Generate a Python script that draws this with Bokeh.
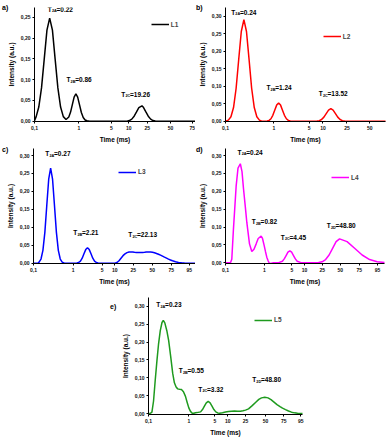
import numpy as np
from bokeh.plotting import figure
from bokeh.models import (Range1d, FixedTicker, CustomJSTickFormatter, Label,
                          Legend, LegendItem, Spacer, Div)
from bokeh.layouts import column, row
from bokeh.embed import file_html
from bokeh.resources import INLINE

FONT = "Liberation Sans"

# ---------------- data ----------------
x_tick_values = [0.1, 1, 5, 10, 25, 50, 75, 95]
x_tick_labels = ["0,1", "1", "5", "10", "25", "50", "75", "95"]

L1_t = [0.1, 0.109, 0.125, 0.144, 0.166, 0.191, 0.22, 0.254, 0.292, 0.337,
        0.388, 0.447, 0.515, 0.595, 0.652, 0.715, 0.784, 0.86, 0.943, 1.034,
        1.134, 1.243, 1.363, 1.494, 1.7, 9.33, 10.3, 11.6, 13.05, 14.7,
        16.5, 19.26, 20.85, 23.4, 25.8, 27.7, 29.7, 31.8, 34, 120]
L1_y = [0.001, 0.011, 0.034, 0.080, 0.150, 0.219, 0.248, 0.219, 0.150, 0.080,
        0.034, 0.011, 0.004, 0.010, 0.022, 0.040, 0.058, 0.066, 0.058, 0.040,
        0.021, 0.009, 0.003, 0.001, 0, 0, 0.0016, 0.005, 0.012, 0.0224,
        0.0327, 0.037, 0.0327, 0.0224, 0.012, 0.005, 0.0016, 0.0004, 0, 0]

L2_t = [0.1, 0.1146, 0.1296, 0.1466, 0.1658, 0.1875, 0.212, 0.24, 0.2714, 0.307,
        0.347, 0.393, 0.444, 0.502, 0.56, 0.7285, 0.796, 0.870, 0.950, 1.038,
        1.135, 1.24, 1.355, 1.48, 1.618, 1.768, 1.932, 2.11, 2.4, 7.0,
        7.4, 8.31, 9.33, 10.36, 11.32, 12.37, 13.52, 14.75, 16.12, 17.6,
        19.23, 21.0, 22.9, 25, 120]
L2_y = [0, 0.003, 0.0127, 0.039, 0.094, 0.176, 0.256, 0.29, 0.256, 0.176,
        0.094, 0.039, 0.0127, 0.003, 0, 0.0006, 0.0023, 0.007, 0.0169, 0.0315,
        0.0459, 0.052, 0.0459, 0.0315, 0.0169, 0.007, 0.0023, 0.0006, 0, 0,
        0.0004, 0.0016, 0.0048, 0.0116, 0.0216, 0.0314, 0.0356, 0.0314, 0.0216, 0.0116,
        0.0048, 0.0016, 0.0004, 0, 0]

L3_t = [0.1, 0.13, 0.1381, 0.1545, 0.1727, 0.1932, 0.2160, 0.2415, 0.27, 0.302,
        0.3376, 0.3776, 0.4220, 0.472, 0.5278, 0.6, 1.15, 1.229, 1.355, 1.494,
        1.648, 1.817, 2.004, 2.21, 2.437, 2.688, 2.964, 3.268, 3.605, 3.975,
        4.5, 10.0, 11.16, 12.33, 13.62, 15.05, 16.62, 18.36, 20.29, 22.13,
        24.15, 26.22, 28.2, 30.3, 32.6, 35.1, 37.8, 40.6, 43.7, 47.0,
        50.3, 52.5, 54.8, 57.2, 59.7, 62.3, 65.0, 67.9, 70.8, 73.9,
        76.3, 79.4, 82.6, 85.9, 89.3, 92.9, 96.6, 120]
L3_y = [0, 0, 0.003, 0.0116, 0.0359, 0.086, 0.1607, 0.2339, 0.265, 0.2339,
        0.1607, 0.086, 0.0359, 0.0116, 0.003, 0, 0, 0.0005, 0.0019, 0.0058,
        0.014, 0.0261, 0.0379, 0.043, 0.0379, 0.0261, 0.014, 0.0058, 0.0019, 0.0005,
        0, 0, 0.002, 0.007, 0.014, 0.021, 0.026, 0.0295, 0.031, 0.0312,
        0.031, 0.0303, 0.0298, 0.0296, 0.0297, 0.030, 0.0305, 0.031, 0.0312, 0.031,
        0.0303, 0.029, 0.0272, 0.025, 0.0225, 0.0198, 0.017, 0.0142, 0.0115, 0.009,
        0.0068, 0.0042, 0.0022, 0.001, 0.0004, 0.0001, 0, 0]

L4_t = [0.1, 0.134, 0.145, 0.160, 0.188, 0.2094, 0.24, 0.265, 0.2895, 0.32,
        0.3516, 0.4124, 0.4724, 0.538, 0.612, 0.6895, 0.82, 0.889, 0.982, 1.061,
        1.145, 1.244, 1.343, 1.511, 1.70, 2.31, 2.873, 3.203, 3.573, 3.985,
        4.45, 4.953, 5.487, 6.068, 6.714, 8.216, 20.75, 24.86, 28.5, 32.6,
        37.3, 42.7, 48.8, 57.9, 68.0, 77.9, 85.8, 94.6, 104.1, 130]
L4_y = [0, 0, 0.01, 0.095, 0.216, 0.265, 0.277, 0.255, 0.207, 0.16,
        0.1135, 0.053, 0.0316, 0.038, 0.053, 0.068, 0.0744, 0.068, 0.048, 0.031,
        0.0157, 0.005, -0.002, -0.001, 0, 0.0004, 0.0045, 0.0109, 0.0203, 0.0296,
        0.0335, 0.0296, 0.0203, 0.0109, 0.0045, 0.0004, 0.0007, 0.0029, 0.0091, 0.0218,
        0.0406, 0.0591, 0.067, 0.0591, 0.0406, 0.0218, 0.0091, 0.0029, 0.0007, 0]

L5_t = [0.1, 0.110, 0.1216, 0.1334, 0.147, 0.162, 0.178, 0.196, 0.2163, 0.233,
        0.254, 0.285, 0.316, 0.355, 0.398, 0.439, 0.484, 0.531, 0.5855, 0.657,
        0.737, 0.827, 0.912, 1.0, 1.111, 1.234, 1.363, 1.514, 1.641, 2.076,
        2.335, 2.627, 2.954, 3.323, 3.737, 4.205, 4.73, 5.274, 5.836, 6.457,
        7.54, 8.84, 10.37, 12.11, 14.15, 16.52, 19.29, 21.96, 25, 27.75,
        31.55, 35.38, 39.67, 43.55, 48.8, 52.85, 56.47, 60.37, 64.53, 68.98,
        72.9, 76.8, 80.1, 83.5, 87.1, 90.8, 94.7, 120]
L5_y = [0, 0, 0.004, 0.035, 0.094, 0.148, 0.196, 0.232, 0.255, 0.261,
        0.254, 0.232, 0.205, 0.16, 0.113, 0.086, 0.074, 0.069, 0.068, 0.067,
        0.061, 0.048, 0.031, 0.0158, 0.006, 0.001, 0.0005, 0.002, 0.0025, 0.0046,
        0.011, 0.0206, 0.030, 0.034, 0.030, 0.0206, 0.011, 0.0046, 0.0015, 0.001,
        0.002, 0.004, 0.0055, 0.0065, 0.0068, 0.0066, 0.0065, 0.0075, 0.0095, 0.013,
        0.022, 0.031, 0.0395, 0.0438, 0.0453, 0.0438, 0.039, 0.032, 0.025, 0.0195,
        0.015, 0.011, 0.007, 0.0038, 0.0018, 0.0007, 0.0002, 0]

# peak annotations: subscript, value text, anchor time (ms), anchor intensity
ann = {
    "a": (["2A", "2B", "2C"], ["=0.22", "=0.86", "=19.26"],
          [0.199, 0.525, 7.38], [0.2694, 0.100, 0.0649]),
    "b": (["2A", "2B", "2C"], ["=0.24", "=1.24", "=13.52"],
          [0.1307, 0.70, 8.08], [0.3113, 0.0965, 0.0777]),
    "c": (["2A", "2B", "2C"], ["=0.27", "=2.21", "=22.13"],
          [0.198, 1.0, 19.5], [0.3047, 0.0847, 0.0791]),
    "d": (["2A", "2B", "2C", "2D"], ["=0.24", "=0.82", "=4.45", "=48.80"],
          [0.203, 0.472, 2.61, 29.8], [0.3093, 0.1155, 0.0716, 0.1043]),
    "e": (["2A", "2B", "2C", "2D"], ["=0.23", "=0.55", "=3.32", "=48.80"],
          [0.156, 0.562, 1.789, 31.5], [0.3047, 0.1194, 0.0686, 0.0944]),
}

# ---------------- layout (pixel geometry of each panel) ----------------
panels = {
    "a": dict(series=("L1", L1_t, L1_y, "#000000"), ox=0, oy=0, W=195, H=145,
              L=34, R=195, T=5, B=122, y0=121.7, ppu=426.8, ntick=7,
              tick_pos=[34, 78.3, 111, 128.3, 146.7, 170, 191.7],
              yticks=[0.0, 0.05, 0.10, 0.15, 0.20, 0.25], leg=(150.7, 25), letter=(2, -7)),
    "b": dict(series=("L2", L2_t, L2_y, "#ff0000"), ox=195, oy=0, W=192, H=145,
              L=222, R=385, T=7, B=123, y0=122.7, ppu=356.6, ntick=6,
              tick_pos=[222, 271.3, 307.3, 321.3, 345.7, 369],
              yticks=[0.0, 0.05, 0.10, 0.15, 0.20, 0.25, 0.30], leg=(319.7, 38.3), letter=(196, -7)),
    "c": dict(series=("L3", L3_t, L3_y, "#0000ff"), ox=0, oy=145, W=195, H=145,
              L=33, R=195, T=148, B=263, y0=262.7, ppu=359.0, ntick=8,
              tick_pos=[33, 72.7, 101.7, 114.3, 132.7, 151.7, 170.7, 188.7],
              yticks=[0.0, 0.05, 0.10, 0.15, 0.20, 0.25, 0.30], leg=(118, 171.7), letter=(2, 135)),
    "d": dict(series=("L4", L4_t, L4_y, "#ff00ff"), ox=195, oy=145, W=192, H=145,
              L=225, R=384, T=148, B=263, y0=262.3, ppu=357.6, ntick=8,
              tick_pos=[225, 264, 291.3, 304, 321.7, 339.7, 358.7, 377],
              yticks=[0.0, 0.05, 0.10, 0.15, 0.20, 0.25, 0.30], leg=(331, 177.3), letter=(196, 135)),
    "e": dict(series=("L5", L5_t, L5_y, "#1e9a1e"), ox=95, oy=290, W=210, H=148,
              L=148, R=302, T=297, B=415, y0=414.0, ppu=360.0, ntick=8,
              tick_pos=[148, 188.3, 214.3, 227.3, 245, 265, 283.3, 300.3],
              yticks=[0.0, 0.05, 0.10, 0.15, 0.20, 0.25, 0.30], leg=(254, 320.7), letter=(110, 292)),
}


def to_pos(ts, tv, tp):
    """Map times (ms) onto the panel's piecewise-logarithmic time axis."""
    lt = np.log10(np.asarray(ts, dtype=float))
    lv = np.log10(np.asarray(tv, dtype=float))
    tp = np.asarray(tp, dtype=float)
    pos = np.interp(lt, lv, tp)
    hi = lt > lv[-1]
    pos[hi] = tp[-1] + (lt[hi] - lv[-1]) * (tp[-1] - tp[-2]) / (lv[-1] - lv[-2])
    lo = lt < lv[0]
    pos[lo] = tp[0] + (lt[lo] - lv[0]) * (tp[1] - tp[0]) / (lv[1] - lv[0])
    return pos


def make_panel(key):
    P = panels[key]
    name, ts, ys, color = P["series"]
    n = P["ntick"]
    tv = x_tick_values[:n]
    tp = P["tick_pos"]
    yv = lambda ypx: (P["y0"] - ypx) / P["ppu"]

    p = figure(width=P["W"], height=P["H"], output_backend="svg", toolbar_location=None,
               x_range=Range1d(P["L"], P["R"]),
               y_range=Range1d(yv(P["B"]), yv(P["T"])),
               min_border_left=P["L"] - P["ox"], min_border_right=P["ox"] + P["W"] - P["R"],
               min_border_top=P["T"] - P["oy"], min_border_bottom=P["oy"] + P["H"] - P["B"],
               background_fill_color="white", border_fill_color=None)
    p.outline_line_color = None
    p.xgrid.visible = False
    p.ygrid.visible = False

    r = p.line(to_pos(ts, tv, tp), ys, line_color=color, line_width=1.5)

    # axes
    for ax in (p.xaxis[0], p.yaxis[0]):
        ax.axis_line_color = "black"
        ax.axis_line_width = 1
        ax.major_tick_line_color = "black"
        ax.major_tick_out = 2
        ax.major_tick_in = 0
        ax.minor_tick_line_color = None
        ax.major_label_text_font = FONT
        ax.major_label_text_font_style = "bold"
        ax.major_label_text_font_size = "5px"
        ax.major_label_text_color = "#111111"
        ax.axis_label_text_font = FONT
        ax.axis_label_text_font_style = "bold"
        ax.axis_label_text_font_size = "6.5px"
        ax.axis_label_text_color = "black"
    p.xaxis.ticker = FixedTicker(ticks=list(tp))
    p.xaxis.major_label_overrides = {float(tp[i]): x_tick_labels[i] for i in range(n)}
    p.xaxis.major_label_standoff = 2
    p.xaxis.axis_label = "Time (ms)"
    p.xaxis.axis_label_standoff = 3
    p.yaxis.ticker = FixedTicker(ticks=P["yticks"])
    p.yaxis.formatter = CustomJSTickFormatter(code="return tick.toFixed(2).replace('.', ',');")
    p.yaxis.major_label_standoff = 2
    p.yaxis.axis_label = "Intensity (a.u.)"
    p.yaxis.axis_label_standoff = 3

    # legend
    gx, gy = P["leg"]
    leg = Legend(items=[LegendItem(label=name, renderers=[r])],
                 location=(gx - P["L"], P["B"] - (gy + 4)),
                 padding=0, margin=0, spacing=0, glyph_width=18, glyph_height=8,
                 label_height=8, label_standoff=2, border_line_color=None,
                 background_fill_alpha=0,
                 label_text_font=FONT, label_text_font_style="bold",
                 label_text_font_size="6.5px", label_text_baseline="middle")
    p.add_layout(leg)

    # peak annotations  T_2X=value
    subs, vals, at, ay = ann[key]
    ax_pos = to_pos(at, tv, tp)
    for s, v, xx, yy in zip(subs, vals, ax_pos, ay):
        common = dict(x=float(xx), y=yy, text_font=FONT, text_font_style="bold",
                      text_baseline="middle", text_align="left", text_color="black")
        p.add_layout(Label(text="T", text_font_size="6.5px", **common))
        p.add_layout(Label(text=s, text_font_size="3.8px", x_offset=4.2, y_offset=-2.2, **common))
        p.add_layout(Label(text=v, text_font_size="6.5px", x_offset=8.8, **common))
    return p


pa, pb, pc, pd, pe = (make_panel(k) for k in "abcde")

# panel letters a) ... e) drawn on a transparent overlay above the figures
spans = "".join(
    f'<span style="position:absolute;left:{panels[k]["letter"][0]}px;'
    f'top:{panels[k]["letter"][1]}px;">{k})</span>' for k in "abcde")
letters = Div(text=(f'<div style="position:relative;width:387px;height:0px;'
                    f'font-family:\'{FONT}\';font-weight:bold;font-size:7px;'
                    f'line-height:9px;color:black;white-space:nowrap;">{spans}</div>'),
              width=387, height=1, margin=(-440, 0, 0, 0))

layout = column(row(pa, pb), row(pc, pd), row(Spacer(width=95, height=148), pe), letters)

open("out.html", "w").write(file_html(layout, INLINE))
